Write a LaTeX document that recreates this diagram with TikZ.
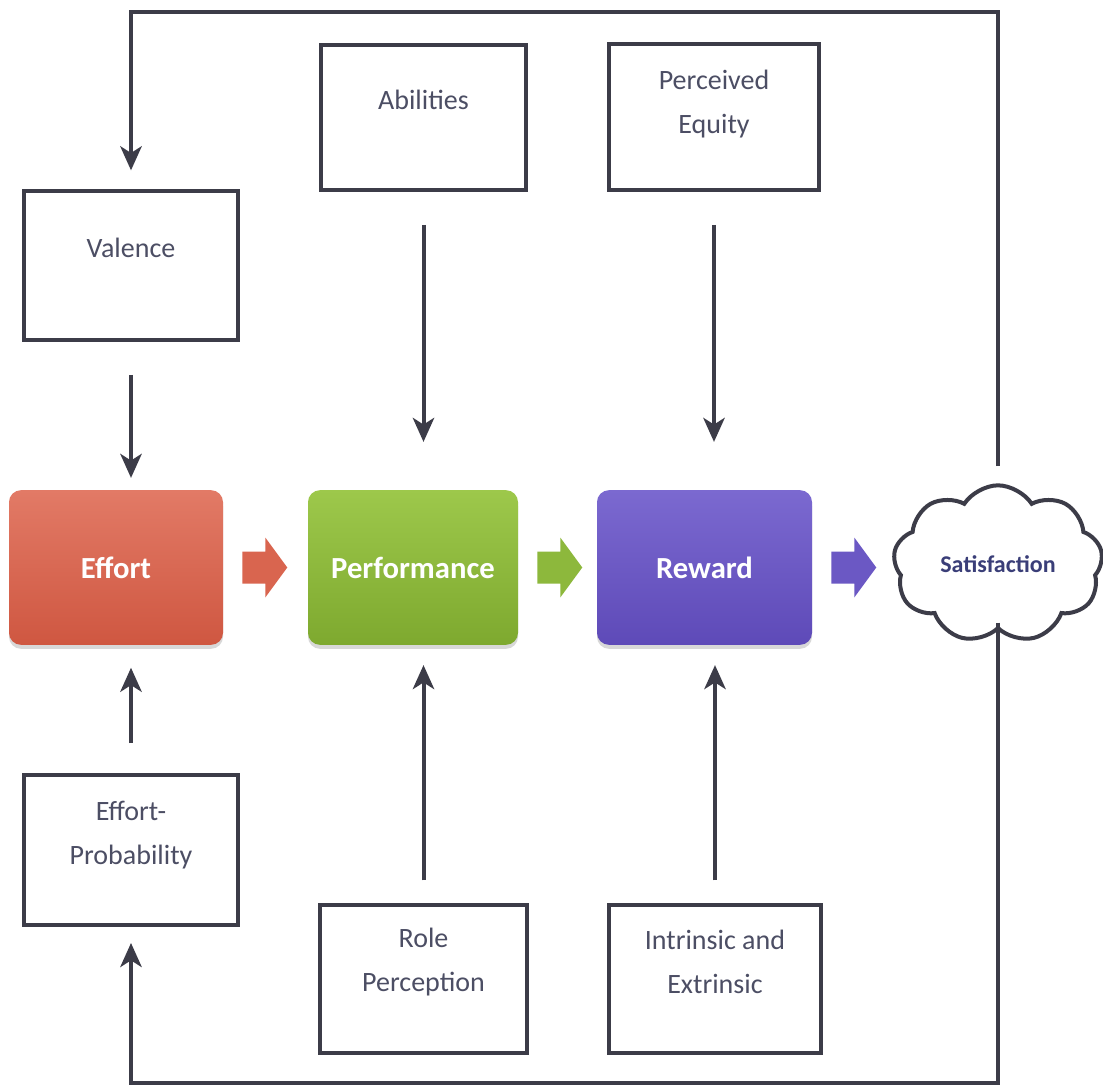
\documentclass[tikz,border=0pt]{standalone}
\usepackage{fontspec}
\setmainfont{Carlito}
\usetikzlibrary{arrows.meta,shapes.symbols,shadows,calc}
\definecolor{ink}{HTML}{3C3C48}
\definecolor{txt}{HTML}{4C4E64}
\definecolor{sattxt}{HTML}{3A3E78}
\definecolor{effTop}{HTML}{E27A66}
\definecolor{effBot}{HTML}{CF5741}
\definecolor{effArr}{HTML}{D9654F}
\definecolor{perTop}{HTML}{9DC84B}
\definecolor{perBot}{HTML}{7EA92F}
\definecolor{perArr}{HTML}{8DB83C}
\definecolor{rewTop}{HTML}{7B69D0}
\definecolor{rewBot}{HTML}{5E4AB8}
\definecolor{rewArr}{HTML}{6B58C4}
\newcommand\flowarrow[2]{\fill[#2] ($(#1.east)+(19,-16)$) -- ++(23,0) -- ++(0,-14) -- ++(22,30) -- ++(-22,30) -- ++(0,-14) -- ++(-23,0) -- cycle;}
\begin{document}
\begin{tikzpicture}[x=0.75pt,y=-0.75pt,
  wbox/.style={draw=ink, line width=3pt, rectangle, inner sep=0pt},
  lbl/.style={text=txt, align=center, font=\fontsize{21}{33}\selectfont},
  cbox/.style={rounded corners=9pt, inner sep=0pt, minimum height=116pt, text=white,
    font=\bfseries\fontsize{23}{28}\selectfont,
    drop shadow={shadow xshift=0pt, shadow yshift=-3pt, opacity=0.3}},
  arr/.style={draw=ink, line width=3pt, -{Stealth[length=18pt,width=16pt,inset=5pt]}},
  line/.style={draw=ink, line width=3pt}
  ]
\useasboundingbox (0,0) rectangle (1103,1087);
\fill[white] (0,0) rectangle (1103,1087);

% white boxes
\node[wbox, minimum width=160.5pt, minimum height=111.75pt,
  label={[lbl,yshift=13pt]center:Valence}] (val) at (131,265.5) {};
\node[wbox, minimum width=153.75pt, minimum height=108.75pt,
  label={[lbl,yshift=13pt]center:Abilities}] (abil) at (423.5,117.5) {};
\node[wbox, minimum width=157.5pt, minimum height=109.5pt,
  label={[lbl,yshift=9.5pt]center:Perceived\\Equity}] (peq) at (714,117) {};
\node[wbox, minimum width=160.5pt, minimum height=112.5pt,
  label={[lbl,yshift=11pt]center:Effort-\\Probability}] (ep) at (131,850) {};
\node[wbox, minimum width=155.25pt, minimum height=111pt,
  label={[lbl,yshift=12.5pt]center:Role\\Perception}] (role) at (423.5,979) {};
\node[wbox, minimum width=159pt, minimum height=111pt,
  label={[lbl,yshift=12.5pt]center:Intrinsic and\\Extrinsic}] (intr) at (715,979) {};

% coloured boxes
\node[cbox, minimum width=160.5pt, top color=effTop, bottom color=effBot] (eff) at (116,567.5) {Effort};
\node[cbox, minimum width=157.5pt, top color=perTop, bottom color=perBot] (perf) at (413,567.5) {Performance};
\node[cbox, minimum width=161.25pt, top color=rewTop, bottom color=rewBot] (rew) at (704.5,567.5) {Reward};

% cloud
\node[cloud, cloud puffs=9, cloud puff arc=115, aspect=1.35, draw=ink, line width=3pt,
  minimum width=157pt, minimum height=118pt, inner sep=0pt, fill=white,
  text=sattxt, font=\bfseries\fontsize{18}{20}\selectfont] (sat) at (998,564) {Satisfaction};

% block arrows
\flowarrow{eff}{effArr}
\flowarrow{perf}{perArr}
\flowarrow{rew}{rewArr}

% vertical connectors
\draw[arr, shorten <=24.75pt, shorten >=9pt] (val.south) -- (val.south |- eff.north);
\draw[arr, shorten <=24.75pt, shorten >=36pt] (abil.south) -- (abil.south |- perf.north);
\draw[arr, shorten <=24.75pt, shorten >=36pt] (peq.south) -- (peq.south |- rew.north);
\draw[arr, shorten <=22.5pt, shorten >=17pt] (ep.north) -- (ep.north |- eff.south);
\draw[arr, shorten <=17pt, shorten >=15pt] (role.north) -- (role.north |- perf.south);
\draw[arr, shorten <=17pt, shorten >=15pt] (intr.north) -- (intr.north |- rew.south);

% feedback loops
\coordinate (topy) at (0,12);
\coordinate (boty) at (0,1083);
\draw[arr, shorten <=13pt, shorten >=14pt] (sat.north) -- (sat.north |- topy) -| (val.north);
\draw[arr, shorten >=12pt] ([yshift=6pt]sat.south) -- (sat.south |- boty) -| (ep.south);
\end{tikzpicture}
\end{document}
